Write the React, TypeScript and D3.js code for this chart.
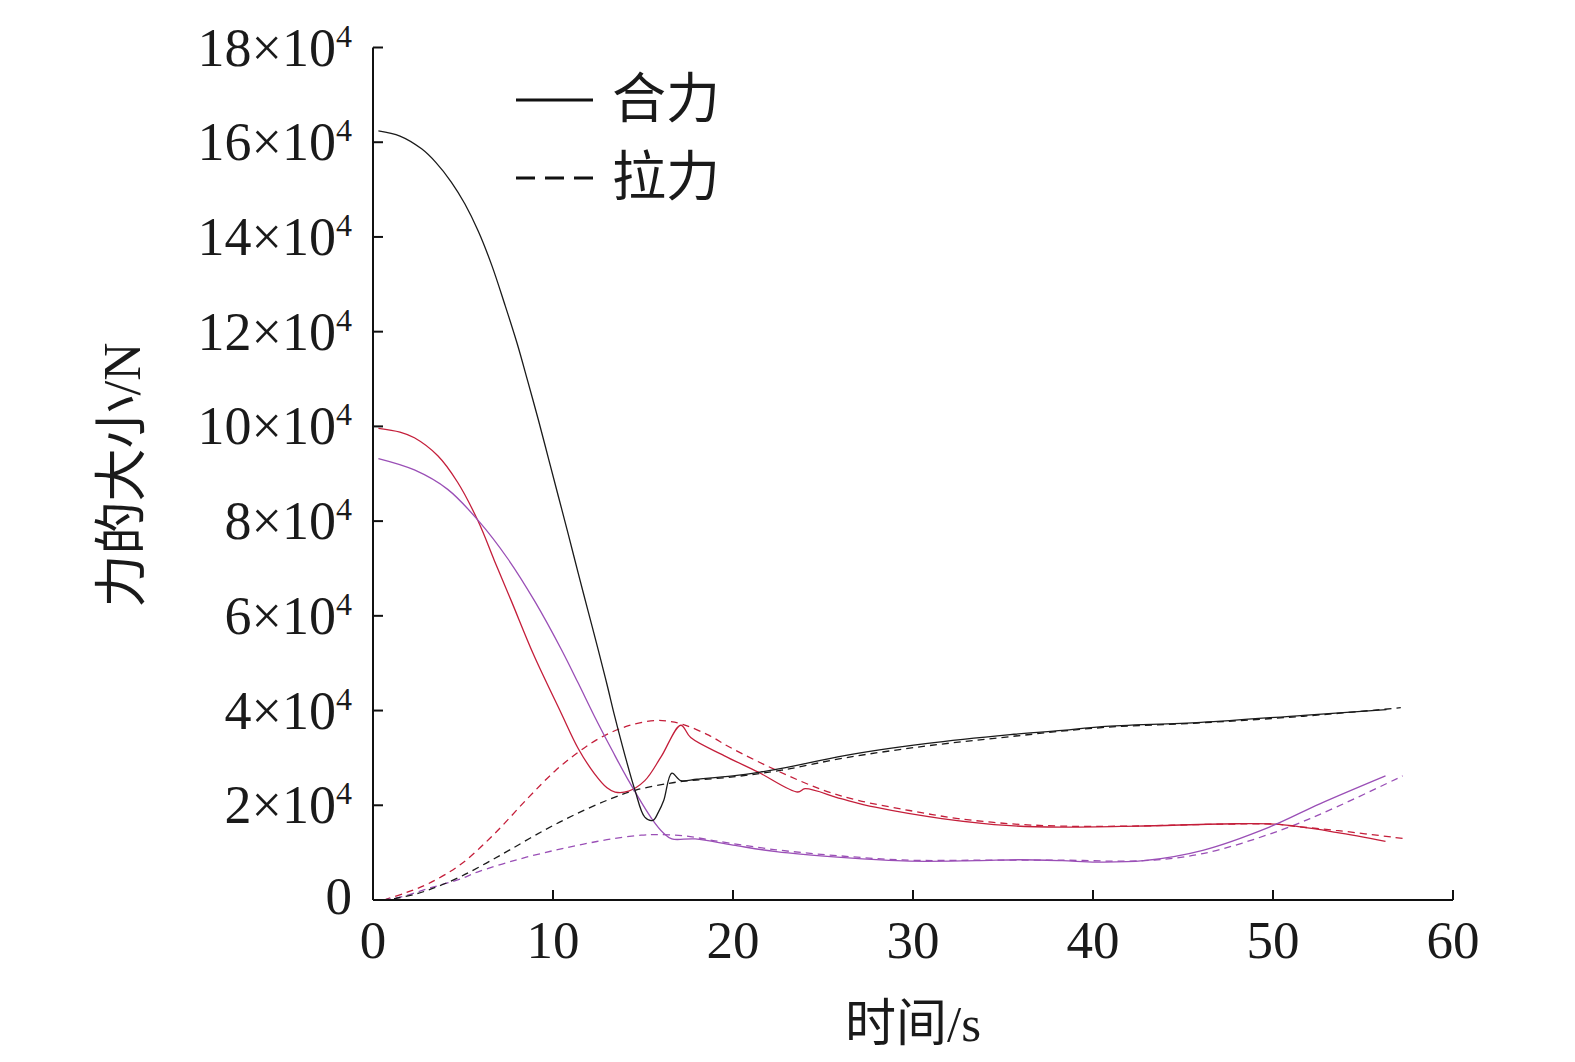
import React from "react";
import * as d3 from "d3";

// ---- data (time in s, force in ×10^4 N) ----
const blackSolid: [number, number][] = [
  [0.3, 16.24], [1.5, 16.13], [2.7, 15.86], [3.5, 15.57], [4.35, 15.16], [5.1, 14.7],
  [5.85, 14.12], [6.6, 13.4], [7.3, 12.6], [8.0, 11.76], [8.6, 10.95], [9.2, 10.12],
  [9.75, 9.32], [10.3, 8.52], [10.85, 7.72], [11.4, 6.9], [11.95, 6.1], [12.52, 5.27],
  [13.0, 4.55], [13.44, 3.86], [14.0, 3.05], [14.56, 2.31], [15.1, 1.75], [15.55, 1.68],
  [15.85, 1.85], [16.15, 2.1], [16.6, 2.68], [17.1, 2.52], [18.0, 2.55], [20.0, 2.62],
  [21.5, 2.7], [23.0, 2.8], [26.2, 3.05], [30.7, 3.3], [35.4, 3.49], [38.3, 3.58],
  [40.5, 3.66], [46.0, 3.75], [51.7, 3.9], [56.3, 4.02],
];
const blackDashed: [number, number][] = [
  [0.5, 0], [1.2, 0.03], [2.5, 0.14], [3.7, 0.3], [4.9, 0.5], [6.3, 0.78], [7.7, 1.08],
  [9.5, 1.47], [11.2, 1.8], [13.1, 2.12], [14.6, 2.32], [16.4, 2.46], [17.1, 2.5],
  [20.0, 2.6], [22.7, 2.74], [26.2, 3.0], [30.7, 3.25], [35.4, 3.45], [40.5, 3.64],
  [46.0, 3.74], [51.7, 3.88], [57.1, 4.06],
];
const redSolid: [number, number][] = [
  [0.3, 9.96], [1.5, 9.88], [2.3, 9.76], [3.6, 9.38], [4.7, 8.82], [5.85, 7.99],
  [6.75, 7.16], [7.7, 6.3], [8.9, 5.2], [10.45, 3.95], [11.4, 3.2], [12.3, 2.67],
  [13.0, 2.37], [13.45, 2.28], [14.2, 2.3], [15.1, 2.52], [16.0, 3.02], [17.1, 3.69],
  [17.65, 3.43], [19.5, 3.05], [21.4, 2.7], [23.6, 2.28], [24.0, 2.35], [26.0, 2.14],
  [27.9, 1.96], [31.6, 1.72], [35.4, 1.57], [38.3, 1.54], [42.4, 1.56], [48.0, 1.61],
  [50.2, 1.6], [53.5, 1.43], [56.25, 1.24],
];
const redDashed: [number, number][] = [
  [0.6, 0], [1.8, 0.15], [3.05, 0.34], [4.9, 0.76], [6.75, 1.4], [8.6, 2.15],
  [10.1, 2.72], [11.4, 3.12], [12.7, 3.44], [14.2, 3.68], [15.7, 3.79], [16.5, 3.77],
  [17.2, 3.71], [18.65, 3.48], [19.8, 3.23], [22.4, 2.74], [24.95, 2.33], [27.0, 2.1],
  [29.8, 1.89], [32.5, 1.72], [35.4, 1.61], [38.3, 1.56], [42.0, 1.56], [47.0, 1.6],
  [50.2, 1.6], [51.1, 1.56], [53.5, 1.47], [57.2, 1.3],
];
const purpleSolid: [number, number][] = [
  [0.3, 9.32], [2.3, 9.08], [4.15, 8.67], [5.9, 7.99], [7.5, 7.2], [9.0, 6.3],
  [10.45, 5.3], [11.4, 4.58], [12.3, 3.88], [13.3, 3.15], [14.2, 2.52], [15.5, 1.71],
  [16.15, 1.41], [16.6, 1.29], [17.9, 1.29], [20.0, 1.16], [22.4, 1.02], [26.0, 0.9],
  [29.8, 0.82], [33.5, 0.83], [36.0, 0.85], [38.3, 0.83], [40.2, 0.8], [42.8, 0.83],
  [46.1, 1.05], [49.8, 1.54], [52.6, 2.03], [56.25, 2.62],
];
const purpleDashed: [number, number][] = [
  [0.6, 0], [1.5, 0.06], [3.05, 0.24], [4.9, 0.45], [5.8, 0.59], [8.0, 0.85],
  [10.1, 1.05], [11.7, 1.18], [13.25, 1.29], [14.9, 1.37], [15.7, 1.38], [17.2, 1.36],
  [19.0, 1.25], [22.4, 1.06], [26.0, 0.93], [29.8, 0.84], [33.5, 0.84], [38.3, 0.84],
  [42.8, 0.83], [46.1, 0.98], [50.4, 1.47], [53.5, 1.96], [57.2, 2.62],
];

const xTicks = [0, 10, 20, 30, 40, 50, 60];
const yTicks = [0, 2, 4, 6, 8, 10, 12, 14, 16, 18];
const legendItems = [
  { label: "合力", dashed: false },
  { label: "拉力", dashed: true },
];
const xTitle = "时间/s";
const yTitle = "力的大小/N";

const RED = "#c41e3a";
const PURPLE = "#9a4fb6";
const BLACK = "#1a1a1a";

const series = [
  { data: redDashed, color: RED, dashed: true },
  { data: purpleDashed, color: PURPLE, dashed: true },
  { data: blackDashed, color: BLACK, dashed: true },
  { data: redSolid, color: RED, dashed: false },
  { data: purpleSolid, color: PURPLE, dashed: false },
  { data: blackSolid, color: BLACK, dashed: false },
];

const NUM_FONT = "'Liberation Serif', 'Times New Roman', serif";
const CJK_FONT = "'Liberation Serif', 'Noto Sans CJK SC', serif";

export default function App() {
  const W = 1575;
  const H = 1062;
  const x = d3.scaleLinear().domain([0, 60]).range([373, 1453]);
  const y = d3.scaleLinear().domain([0, 18]).range([900, 47.5]);
  const line = d3
    .line<[number, number]>()
    .x((d) => x(d[0]))
    .y((d) => y(d[1]))
    .curve(d3.curveCatmullRom.alpha(0.5));

  return (
    <svg
      width={W}
      height={H}
      style={{ position: "absolute", left: 0, top: 0, background: "#fff" }}
    >
      <rect x={0} y={0} width={W} height={H} fill="#fff" />
      {/* data lines */}
      {series.map((s, i) => (
        <path
          key={i}
          d={line(s.data) || ""}
          fill="none"
          stroke={s.color}
          strokeWidth={1.3}
          strokeDasharray={s.dashed ? "7,5" : undefined}
        />
      ))}
      {/* axes */}
      <line x1={x(0)} x2={x(0)} y1={y(18)} y2={y(0)} stroke="#111" strokeWidth={2} />
      <line x1={x(0)} x2={x(60)} y1={y(0)} y2={y(0)} stroke="#111" strokeWidth={2} />
      {yTicks.map((v) => (
        <g key={"y" + v}>
          <line x1={x(0)} x2={x(0) + 10} y1={y(v)} y2={y(v)} stroke="#111" strokeWidth={2} />
          {v === 0 ? (
            <text
              x={352}
              y={y(v) - 4}
              textAnchor="end"
              dominantBaseline="central"
              fontFamily={NUM_FONT}
              fontSize={53}
              fill="#1a1a1a"
            >
              0
            </text>
          ) : (
            <text
              x={352}
              y={y(v) + 18}
              textAnchor="end"
              fontFamily={NUM_FONT}
              fontSize={54}
              fill="#1a1a1a"
            >
              {`${v}×10`}
              <tspan fontSize={32} dy={-19}>
                4
              </tspan>
            </text>
          )}
        </g>
      ))}
      {xTicks.map((v) => (
        <g key={"x" + v}>
          <line x1={x(v)} x2={x(v)} y1={y(0)} y2={y(0) - 10} stroke="#111" strokeWidth={2} />
          <text
            x={x(v)}
            y={958}
            textAnchor="middle"
            fontFamily={NUM_FONT}
            fontSize={53}
            fill="#1a1a1a"
          >
            {v}
          </text>
        </g>
      ))}
      {/* axis titles */}
      <text
        x={913}
        y={1041}
        textAnchor="middle"
        fontFamily={CJK_FONT}
        fontSize={51}
        fill="#1a1a1a"
      >
        {xTitle}
      </text>
      <text
        transform="translate(140,475) rotate(-90)"
        textAnchor="middle"
        fontFamily={CJK_FONT}
        fontSize={53}
        fill="#1a1a1a"
      >
        {yTitle}
      </text>
      {/* legend */}
      {legendItems.map((it, i) => (
        <g key={it.label} transform={`translate(0, ${100 + i * 78})`}>
          <line
            x1={516}
            x2={593}
            y1={0}
            y2={0}
            stroke="#111"
            strokeWidth={3}
            strokeDasharray={it.dashed ? "19,10" : undefined}
          />
          <text
            x={612}
            y={0}
            dominantBaseline="central"
            fontFamily={CJK_FONT}
            fontSize={54}
            fill="#1a1a1a"
          >
            {it.label}
          </text>
        </g>
      ))}
    </svg>
  );
}
